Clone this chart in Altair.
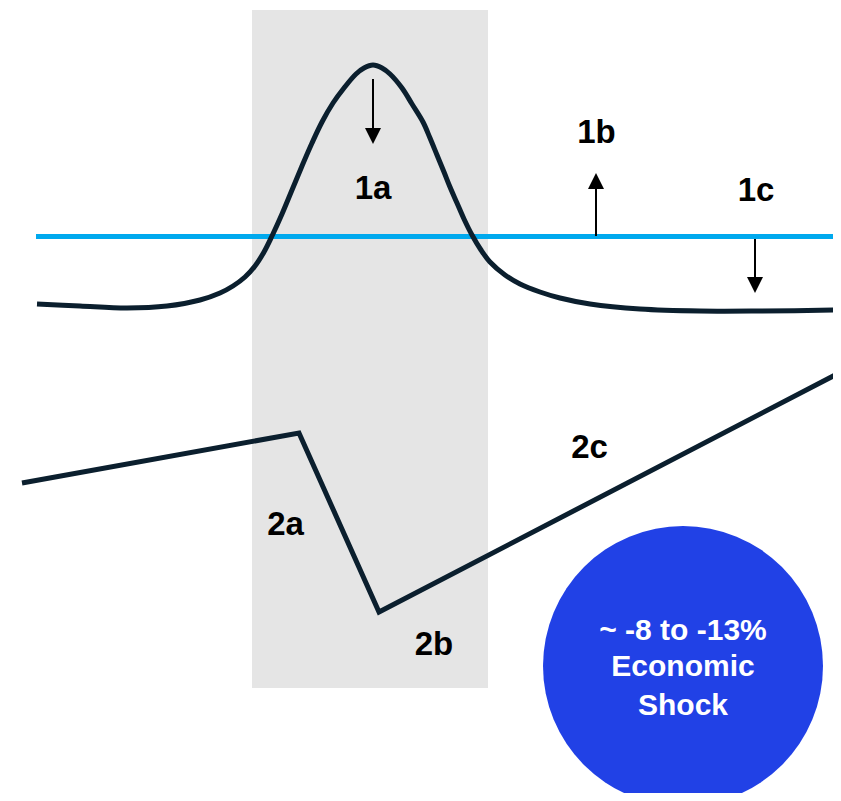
import altair as alt
import pandas as pd

# ---- data (in page-pixel units) ----
curve1_x = [37, 80, 127, 167, 200, 220, 233, 245, 255, 264, 272, 282, 292, 302, 312, 322,
            333, 344, 356, 364, 373, 382, 390, 402, 412, 423, 430, 437, 444, 450, 457,
            464, 472, 481, 490, 505, 520, 540, 560, 590, 640, 700, 760, 841]
curve1_y = [304, 306, 308, 306, 300, 293, 286, 277, 266, 252, 236, 214, 190, 166, 143, 122,
            103, 88, 74, 68, 65, 68, 74, 88, 104, 122, 138, 155, 172, 187, 203,
            219, 235, 250, 262, 275, 284, 292, 298, 304, 309, 311, 311, 310]

path2_x = [22, 299, 379, 841]
path2_y = [483, 433, 612, 372]

base_x = [36, 841]
base_y = [236.5, 236.5]

band_x = [252]
band_x2 = [488]
band_y = [10]
band_y2 = [688]

arrow_x = [373, 596, 755]
arrow_y1 = [79, 236, 239]
arrow_y2 = [130, 186, 279]
arrow_head_y = [136, 181, 285]
arrow_dir = ["down", "up", "down"]

label_text = ["1a", "1b", "1c", "2a", "2b", "2c"]
label_x = [373, 596.5, 756, 285.5, 434, 589.5]
label_y = [199, 142.5, 201, 535, 655, 458]

bubble_x = [683]
bubble_y = [666]

bubble_text = ["~ -8 to -13%", "Economic", "Shock"]
bubble_text_x = [683, 683, 683]
bubble_text_y = [640, 676, 715]

# ---- tables ----
curve1 = pd.DataFrame({"x": curve1_x, "y": curve1_y, "o": range(len(curve1_x))})
path2 = pd.DataFrame({"x": path2_x, "y": path2_y, "o": range(len(path2_x))})
base = pd.DataFrame({"x": base_x, "y": base_y, "o": range(len(base_x))})
band = pd.DataFrame({"x": band_x, "x2": band_x2, "y": band_y, "y2": band_y2})
arrows = pd.DataFrame({"x": arrow_x, "y": arrow_y1, "y2": arrow_y2,
                       "hy": arrow_head_y, "dir": arrow_dir})
labels = pd.DataFrame({"t": label_text, "x": label_x, "y": label_y})
bubble = pd.DataFrame({"x": bubble_x, "y": bubble_y})
btext = pd.DataFrame({"t": bubble_text, "x": bubble_text_x, "y": bubble_text_y})

# chart occupies page pixels x 8..833, y 8..793 (so the page does not overflow)
X0, X1 = 8, 833
Y0, Y1 = 8, 793
W, H = X1 - X0, Y1 - Y0
xs = alt.Scale(domain=[X0, X1], nice=False, zero=False)
ys = alt.Scale(domain=[Y0, Y1], nice=False, zero=False, reverse=True)


def X(f):
    return alt.X(f, type="quantitative", scale=xs, axis=None)


def Y(f):
    return alt.Y(f, type="quantitative", scale=ys, axis=None)


NAVY = "#0b1f2e"

band_layer = alt.Chart(band).mark_rect(color="#e5e5e5").encode(
    x=X("x"), x2="x2", y=Y("y"), y2="y2")

base_layer = alt.Chart(base).mark_line(color="#00a9ee", strokeWidth=5, clip=True).encode(
    x=X("x"), y=Y("y"), order="o:Q")

curve_layer = alt.Chart(curve1).mark_line(
    color=NAVY, strokeWidth=5, interpolate="catmull-rom", strokeCap="butt", clip=True).encode(
    x=X("x"), y=Y("y"), order="o:Q")

path2_layer = alt.Chart(path2).mark_line(
    color=NAVY, strokeWidth=5, strokeJoin="miter", strokeCap="butt", clip=True).encode(
    x=X("x"), y=Y("y"), order="o:Q")

shaft_layer = alt.Chart(arrows).mark_rule(color="black", strokeWidth=2).encode(
    x=X("x"), y=Y("y"), y2="y2")

head_layer = alt.Chart(arrows).mark_point(
    filled=True, opacity=1, color="black", size=256, strokeWidth=0).encode(
    x=X("x"), y=Y("hy"),
    shape=alt.Shape("dir:N", legend=None,
                    scale=alt.Scale(domain=["down", "up"],
                                    range=["M-1,-1L1,-1L0,1Z", "M-1,1L1,1L0,-1Z"])))

label_layer = alt.Chart(labels).mark_text(
    font="Liberation Sans", fontWeight="bold", fontSize=33, color="black",
    align="center", baseline="alphabetic").encode(
    x=X("x"), y=Y("y"), text="t:N")

bubble_layer = alt.Chart(bubble).mark_circle(
    color="#2141e6", opacity=1, size=78400, clip=True).encode(x=X("x"), y=Y("y"))

btext_layer = alt.Chart(btext).mark_text(
    font="Liberation Sans", fontWeight="bold", fontSize=30, color="white",
    align="center", baseline="alphabetic").encode(
    x=X("x"), y=Y("y"), text="t:N")

chart = alt.layer(
    band_layer, base_layer, curve_layer, path2_layer, shaft_layer, head_layer,
    label_layer, bubble_layer, btext_layer
).properties(
    width=W, height=H, autosize=alt.AutoSizeParams(type="none"), padding=0,
    background="white"
).configure_view(stroke=None)

chart.save("out.html", embed_options={"renderer": "svg", "actions": False})
